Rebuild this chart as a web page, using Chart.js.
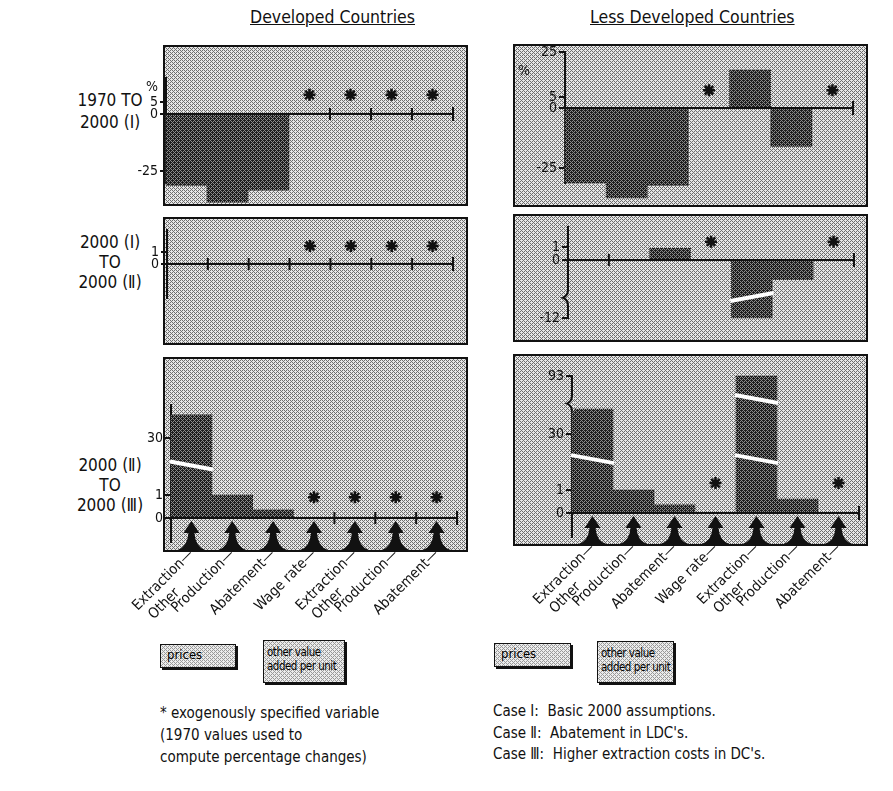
<!DOCTYPE html>
<html>
<head>
<meta charset="utf-8">
<script src="https://cdn.jsdelivr.net/npm/chart.js@4.4.1/dist/chart.umd.min.js"></script>
<style>
  body { margin: 0; width: 893px; height: 791px; position: relative; overflow: hidden; background: #fff;
         font-family: "DejaVu Sans Condensed", "DejaVu Sans", sans-serif; color: #111; }
  .t { position: absolute; white-space: nowrap; }
  .box { position: absolute; box-sizing: border-box; border: 2px solid #111; }
  .key { position: absolute; box-sizing: border-box; border: 1px solid #111; box-shadow: 2px 2px 0 #111;
         font-size: 11.5px; letter-spacing: -0.5px; line-height: 14px; padding: 4px 3px; white-space: nowrap;
         overflow: hidden; color: #000; }
  canvas { position: absolute; }
</style>
</head>
<body>
<div class="t" style="left:250px;top:7px;font-size:17.5px;text-decoration:underline;">Developed Countries</div>
<div class="t" style="left:590px;top:7px;font-size:17.5px;text-decoration:underline;">Less Developed Countries</div>

<div class="t" style="left:60px;top:89px;width:100px;text-align:center;font-size:17px;line-height:22px;">1970 TO<br>2000 (Ⅰ)</div>
<div class="t" style="left:60px;top:232px;width:100px;text-align:center;font-size:17px;line-height:20px;">2000 (Ⅰ)<br>TO<br>2000 (Ⅱ)</div>
<div class="t" style="left:60px;top:455px;width:100px;text-align:center;font-size:17px;line-height:20px;">2000 (Ⅱ)<br>TO<br>2000 (Ⅲ)</div>

<div id="stage"></div>

<div class="t" style="left:146px;top:78px;font-size:14px;z-index:3;">%</div>
<div class="t" style="left:518px;top:62px;font-size:14px;z-index:3;">%</div>

<div class="key" style="left:160px;top:644px;width:76px;height:24px;font-size:13px;letter-spacing:0;padding:3px 6px;">prices</div>
<div class="key" style="left:263px;top:640px;width:82px;height:43px;">other value<br>added per unit</div>
<div class="key" style="left:494px;top:643px;width:77px;height:24px;font-size:13px;letter-spacing:0;padding:3px 6px;">prices</div>
<div class="key" style="left:597px;top:641px;width:77px;height:42px;">other value<br>added per unit</div>

<div class="t" style="left:160px;top:702px;font-size:15px;line-height:22px;">* exogenously specified variable<br>(1970 values used to<br>compute percentage changes)</div>
<div class="t" style="left:493px;top:701px;font-size:15px;line-height:21.5px;">Case Ⅰ:&nbsp; Basic 2000 assumptions.<br>Case Ⅱ:&nbsp; Abatement in LDC's.<br>Case Ⅲ:&nbsp; Higher extraction costs in DC's.</div>

<script>
// sectors along the horizontal axis: prices (first four), other value added per unit (last three)
const categories = [['Extraction—', 'Other'], 'Production—', 'Abatement—', 'Wage rate—',
                    ['Extraction—', 'Other'], 'Production—', 'Abatement—'];

// percentage changes (null = exogenous, no bar)
const dc1970to2000  = [-31, -38, -33, null, null, null, null];
const ldc1970to2000 = [-31, -37, -32, null, 17, -16, null];
const dcCase1to2    = [0, 0, 0, null, null, null, null];
const ldcCase1to2   = [0, 0, 0.9, null, -12, -1.5, null];
const dcCase2to3    = [42, 1, 0.35, null, null, null, null];
const ldcCase2to3   = [57, 1, 0.35, null, 93, 0.6, null];

// asterisks: exogenously specified variables
const dcExo1  = [null, null, null, 8, 8, 8, 8];
const ldcExo1 = [null, null, null, 8, null, null, 8];
const dcExo2  = [null, null, null, 1.5, 1.5, 1.5, 1.5];
const ldcExo2 = [null, null, null, 1.4, null, null, 1.4];
const dcExo3  = [null, null, null, 0.9, 0.9, 0.9, 0.9];
const ldcExo3 = [null, null, null, 4.6, null, null, 4.6];

// labelled ticks of each (broken) vertical axis
const dcTicks1 = [5, 0, -25];
const ldcTicks1 = [25, 5, 0, -25];
const dcTicks2 = [1, 0];
const ldcTicks2 = [1, 0, -12];
const dcTicks3 = [30, 1, 0];
const ldcTicks3 = [93, 30, 1, 0];

// layout of each panel; knots = [value, page y] of the piecewise (broken) axis
const panels = [
  { id: 'dc1', left: 110, top: 40, width: 370, height: 175, axisX: 166, axisEnd: 453, box: [163, 45, 305, 161],
    knots: [[-30, 183], [-25, 171], [0, 114], [5, 102], [15, 78]], ticks: dcTicks1,
    values: dc1970to2000, exo: dcExo1, slashes: [], axisBreaks: [] },
  { id: 'ldc1', left: 505, top: 40, width: 375, height: 175, axisX: 565, axisEnd: 853, box: [513, 44, 355, 163],
    knots: [[-31, 183], [-25, 168], [0, 108], [5, 97], [25, 52]], ticks: ldcTicks1,
    values: ldc1970to2000, exo: ldcExo1, slashes: [], axisBreaks: [] },
  { id: 'dc2', left: 110, top: 210, width: 370, height: 140, axisX: 167, axisEnd: 453, box: [163, 217, 305, 128],
    knots: [[-2.8, 298], [0, 264], [1, 252], [2.8, 230]], ticks: dcTicks2,
    values: dcCase1to2, exo: dcExo2, slashes: [], axisBreaks: [] },
  { id: 'ldc2', left: 505, top: 210, width: 375, height: 140, axisX: 568, axisEnd: 854, box: [513, 214, 355, 128],
    knots: [[-12, 318], [-2.3, 290], [0, 260], [1, 247], [2.5, 227]], ticks: ldcTicks2,
    values: ldcCase1to2, exo: ldcExo2, slashes: [-4.7], slant: -4, axisBreaks: [-5] },
  { id: 'dc3', left: 110, top: 360, width: 370, height: 280, axisX: 171, axisEnd: 457, box: [163, 357, 305, 195],
    knots: [[-1, 542], [0, 518], [1, 495], [30, 438], [47, 405]], ticks: dcTicks3,
    values: dcCase2to3, exo: dcExo3, slashes: [16], slant: 4, axisBreaks: [], arrows: true, labelGap: 4 },
  { id: 'ldc3', left: 505, top: 360, width: 375, height: 280, axisX: 572, axisEnd: 859, box: [513, 354, 355, 192],
    knots: [[-1, 537], [0, 513], [1, 490], [30, 434], [93, 376]], ticks: ldcTicks3,
    values: ldcCase2to3, exo: ldcExo3, slashes: [17, 68], slant: 4, axisBreaks: [63], arrows: true, labelGap: 3 },
];
const panelById = {};
panels.forEach(p => panelById[p.id] = p);

// dithered textures
function makeTile(dark, light) {
  const c = document.createElement('canvas');
  c.width = c.height = 4;
  const g = c.getContext('2d');
  for (let yy = 0; yy < 4; yy++) for (let xx = 0; xx < 4; xx++) {
    g.fillStyle = ((xx + yy) % 4 === 0 || (xx - yy + 4) % 4 === 0) ? dark : light;
    g.fillRect(xx, yy, 1, 1);
  }
  return c;
}
const bgTile = makeTile('#6e6e6e', '#e6e6e6');
const keyTile = makeTile('#9a9a9a', '#ececec');
const barTile = makeTile('#8a8a8a', '#1c1c1c');
const barFill = barTile.getContext('2d').createPattern(barTile, 'repeat');
const bgUrl = 'url(' + bgTile.toDataURL() + ')';
document.querySelectorAll('.key').forEach(k => k.style.backgroundImage = 'url(' + keyTile.toDataURL() + ')');

// vertical axis with breaks: piecewise linear between knots
class BrokenScale extends Chart.LinearScale {
  static id = 'broken';
  getPixelForValue(value) {
    const p = panelById[this.chart.canvas.id];
    const k = p.knots;
    let i = 0;
    while (i < k.length - 2 && value > k[i + 1][0]) i++;
    const [v0, y0] = k[i], [v1, y1] = k[i + 1];
    return y0 + (value - v0) * (y1 - y0) / (v1 - v0) - p.top;
  }
  getValueForPixel(pixel) {
    const p = panelById[this.chart.canvas.id];
    const k = p.knots, py = pixel + p.top;
    let i = 0;
    while (i < k.length - 2 && py < k[i + 1][1]) i++;
    const [v0, y0] = k[i], [v1, y1] = k[i + 1];
    return v0 + (py - y0) * (v1 - v0) / (y1 - y0);
  }
}
Chart.register(BrokenScale);

function drawArrow(ctx, cx, top, bot) {
  ctx.beginPath();
  ctx.moveTo(cx, top);
  ctx.lineTo(cx + 8, top + 12);
  ctx.lineTo(cx + 3, top + 12);
  ctx.quadraticCurveTo(cx + 4, bot - 3, cx + 14, bot);
  ctx.lineTo(cx - 14, bot);
  ctx.quadraticCurveTo(cx - 4, bot - 3, cx - 3, top + 12);
  ctx.lineTo(cx - 8, top + 12);
  ctx.closePath();
  ctx.fill();
}

const decor = {
  id: 'decor',
  afterDatasetsDraw(chart) {
    const p = panelById[chart.canvas.id];
    const { ctx, chartArea: a } = chart;
    const xs = chart.scales.x, ys = chart.scales.y;
    const n = categories.length;
    const y0 = ys.getPixelForValue(0);
    ctx.save();
    // white cuts where a bar crosses an axis break
    const bars = chart.getDatasetMeta(0).data;
    p.slashes.forEach(b => {
      const yb = ys.getPixelForValue(b);
      bars.forEach((bar, i) => {
        const v = p.values[i];
        if (v == null || v / b < 1) return;
        ctx.strokeStyle = '#fff';
        ctx.lineWidth = 4;
        ctx.beginPath();
        ctx.moveTo(bar.x - bar.width / 2 - 1, yb - p.slant);
        ctx.lineTo(bar.x + bar.width / 2 + 1, yb + p.slant);
        ctx.stroke();
      });
    });
    // zero line and its tick marks between empty categories
    ctx.strokeStyle = '#111';
    ctx.fillStyle = '#111';
    ctx.lineWidth = 2;
    ctx.beginPath();
    ctx.moveTo(a.left, y0);
    ctx.lineTo(a.right, y0);
    ctx.stroke();
    const empty = i => !p.values[i];
    for (let k = 1; k <= n; k++) {
      if (k < n && !(empty(k - 1) && empty(k))) continue;
      const bx = k === n ? a.right : (xs.getPixelForValue(k - 1) + xs.getPixelForValue(k)) / 2;
      const h = k === n ? 7 : 6;
      ctx.beginPath();
      ctx.moveTo(bx, y0 - h);
      ctx.lineTo(bx, y0 + h);
      ctx.stroke();
    }
    // axis break marks
    p.axisBreaks.forEach(b => {
      const yb = ys.getPixelForValue(b);
      const x = a.left;
      ctx.clearRect(x - 2, yb - 7, 4, 14);
      ctx.fillStyle = ctx.createPattern(bgTile, 'repeat');
      ctx.fillRect(x - 2, yb - 7, 4, 14);
      ctx.beginPath();
      ctx.moveTo(x, yb - 8);
      ctx.quadraticCurveTo(x, yb - 2, x - 5, yb);
      ctx.quadraticCurveTo(x, yb + 2, x, yb + 8);
      ctx.stroke();
      ctx.fillStyle = '#111';
    });
    // arrows under the axis
    if (p.arrows) {
      const bot = p.box[1] + p.box[3] - 2 - p.top;
      categories.forEach((c, i) => drawArrow(ctx, xs.getPixelForValue(i), y0 + 3, bot));
    }
    ctx.restore();
  }
};

Chart.defaults.font.family = '"DejaVu Sans Condensed", "DejaVu Sans", sans-serif';
Chart.defaults.font.size = 14;
Chart.defaults.color = '#111';

const stage = document.getElementById('stage');
const W = 40, H = 90;
const pad = '\u00a0'.repeat(9);

panels.forEach(p => {
  const box = document.createElement('div');
  box.className = 'box';
  Object.assign(box.style, {
    left: p.box[0] + 'px', top: p.box[1] + 'px', width: p.box[2] + 'px', height: p.box[3] + 'px',
    backgroundImage: bgUrl
  });
  stage.appendChild(box);

  const cv = document.createElement('canvas');
  cv.id = p.id;
  cv.width = p.width;
  cv.height = p.height;
  cv.style.left = p.left + 'px';
  cv.style.top = p.top + 'px';
  stage.appendChild(cv);

  const ys = p.knots.map(k => k[1]);
  const yTop = Math.min(...ys) - p.top, yBot = Math.max(...ys) - p.top;
  const xh = p.arrows ? H : 0;

  new Chart(cv, {
    type: 'bar',
    data: {
      labels: categories,
      datasets: [
        { data: p.values, backgroundColor: barFill, borderWidth: 0, barPercentage: 1, categoryPercentage: 1, clip: false, order: 2 },
        { type: 'line', data: p.exo, showLine: false, pointStyle: 'star', pointRadius: 6, clip: false,
          pointBorderWidth: 2.5, pointBorderColor: '#111', pointBackgroundColor: '#111', order: 1 }
      ]
    },
    options: {
      responsive: false,
      animation: false,
      devicePixelRatio: 1,
      layout: { padding: { left: p.axisX - p.left - W, right: p.left + p.width - p.axisEnd, top: yTop,
                           bottom: p.height - yBot - xh } },
      plugins: { legend: { display: false }, tooltip: { enabled: false } },
      scales: {
        x: {
          display: !!p.arrows,
          offset: true,
          grid: { display: false, drawTicks: false },
          border: { display: false },
          ticks: {
            autoSkip: false, maxRotation: 45, minRotation: 45, padding: p.labelGap || 0,
            font: { size: 14.5 },
            callback: (v, i) => Array.isArray(categories[i]) ? [categories[i][0], categories[i][1] + pad] : categories[i]
          },
          afterFit: s => { s.height = xh; s.paddingLeft = 0; s.paddingRight = 0; }
        },
        y: {
          type: 'broken',
          min: p.knots[0][0],
          max: p.knots[p.knots.length - 1][0],
          grid: { display: true, drawOnChartArea: false, drawTicks: true, tickLength: 6, color: '#111', lineWidth: 2 },
          border: { display: true, color: '#111', width: 2 },
          ticks: { autoSkip: false, padding: 2, callback: v => String(v) },
          afterBuildTicks: s => { s.ticks = p.ticks.map(v => ({ value: v })); },
          afterFit: s => { s.width = W; s.paddingTop = 0; s.paddingBottom = 0; }
        }
      }
    },
    plugins: [decor]
  });
});
</script>
</body>
</html>
